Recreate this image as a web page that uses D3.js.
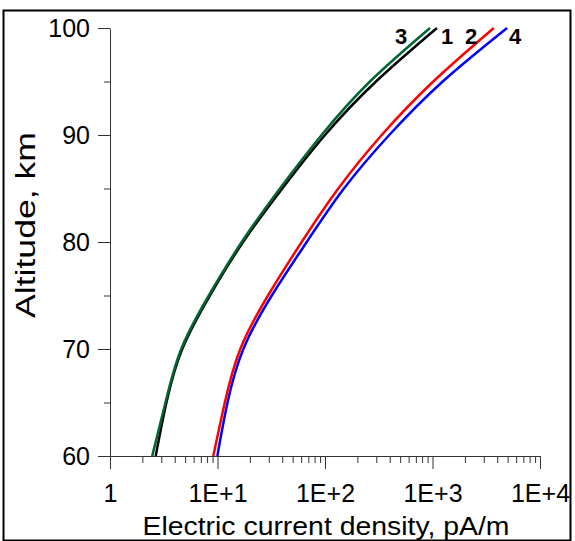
<!DOCTYPE html>
<html>
<head>
<meta charset="utf-8">
<script src="https://cdn.jsdelivr.net/npm/d3@7"></script>
<style>
  body { margin: 0; background: #fff; }
  svg { font-family: "Liberation Sans", Arial, sans-serif; }
</style>
</head>
<body>
<div id="chart"></div>
<script>
// altitude, km
const altitudes = [60, 65, 70, 75, 80, 85, 90, 95, 100];
// electric current density, pA/m, one list per curve
const curve1 = [2.66, 3.35, 4.7, 8.5, 17.3, 40.1, 100, 298, 1100];
const curve2 = [9.14, 11.7, 16.3, 29.5, 60.7, 133, 337, 1017, 3720];
const curve3 = [2.47, 3.28, 4.6, 8.3, 16.8, 38.1, 93, 262, 948];
const curve4 = [9.96, 12.4, 17.4, 32.0, 67.6, 150, 396, 1245, 4940];
const curveNames = ['1', '2', '3', '4'];
const curveColors = ['#000000', '#ff0000', '#006633', '#0000ff'];
const xTickValues = [1, 10, 100, 1000, 10000];
const xTickLabels = ['1', '1E+1', '1E+2', '1E+3', '1E+4'];
const yTickValues = [60, 70, 80, 90, 100];
const yMinorValues = [65, 75, 85, 95];

const w = 575;
const h = 541;
const padLeft = 110, padRight = 540, padTop = 28, padBottom = 456;

const svg = d3.select('#chart').append('svg').attr('width', w).attr('height', h);

// outer frame
svg.append('rect')
    .attr('x', 3.5).attr('y', 10.5)
    .attr('width', 567).attr('height', 530)
    .attr('fill', 'none').attr('stroke', '#000').attr('stroke-width', 2);

const xScale = d3.scaleLog().domain([1, 10000]).range([padLeft, padRight]);
const yScale = d3.scaleLinear().domain([60, 100]).range([padBottom, padTop]);

const xMinor = [];
for (let p = 1; p < 10000; p *= 10) {
    for (let k = 2; k <= 9; k++) xMinor.push(k * p);
}

// x axis
svg.append('g')
    .attr('transform', 'translate(0,' + padBottom + ')')
    .call(d3.axisBottom(xScale).tickValues(xMinor).tickSize(7).tickFormat(''))
    .call(g => g.select('.domain').remove());
const xAxis = svg.append('g')
    .attr('transform', 'translate(0,' + padBottom + ')')
    .call(d3.axisBottom(xScale).tickValues(xTickValues).tickSize(13).tickSizeOuter(0)
        .tickFormat((d, i) => xTickLabels[i]));
xAxis.selectAll('text').attr('font-size', 25).attr('dy', '0.95em').attr('fill', '#000')
    .attr('y', 22);

// y axis
svg.append('g')
    .attr('transform', 'translate(' + padLeft + ',0)')
    .call(d3.axisLeft(yScale).tickValues(yMinorValues).tickSize(6).tickFormat(''))
    .call(g => g.select('.domain').remove());
const yAxis = svg.append('g')
    .attr('transform', 'translate(' + padLeft + ',0)')
    .call(d3.axisLeft(yScale).tickValues(yTickValues).tickSize(12).tickSizeOuter(0));
yAxis.selectAll('text').attr('font-size', 25).attr('x', -20).attr('fill', '#000');

svg.selectAll('.domain, .tick line').attr('stroke', '#333');
svg.selectAll('text').attr('font-family', '"Liberation Sans", Arial, sans-serif');

// titles
svg.append('text')
    .attr('x', 326).attr('y', 535)
    .attr('text-anchor', 'middle')
    .attr('font-size', 26)
    .attr('textLength', 367)
    .attr('lengthAdjust', 'spacingAndGlyphs')
    .text('Electric current density, pA/m');
svg.append('text')
    .attr('transform', 'translate(35,225) rotate(-90)')
    .attr('text-anchor', 'middle')
    .attr('font-size', 27)
    .attr('textLength', 186)
    .attr('lengthAdjust', 'spacingAndGlyphs')
    .text('Altitude, km');

// curves
const line = d3.line()
    .x(d => xScale(d[0]))
    .y(d => yScale(d[1]))
    .curve(d3.curveNatural);
const series = [curve1, curve2, curve3, curve4];
const drawOrder = [3, 0, 2, 1];
drawOrder.forEach(i => {
    svg.append('path')
        .datum(series[i].map((v, j) => [v, altitudes[j]]))
        .attr('fill', 'none')
        .attr('stroke', curveColors[i])
        .attr('stroke-width', 2.5)
        .attr('d', line);
});

// curve labels at the top end
const labelX = [447, 471, 401, 515];
curveNames.forEach((name, i) => {
    svg.append('text')
        .attr('x', labelX[i]).attr('y', 44)
        .attr('text-anchor', 'middle')
        .attr('font-size', 22)
        .attr('font-weight', 'bold')
        .text(name);
});
</script>
</body>
</html>
